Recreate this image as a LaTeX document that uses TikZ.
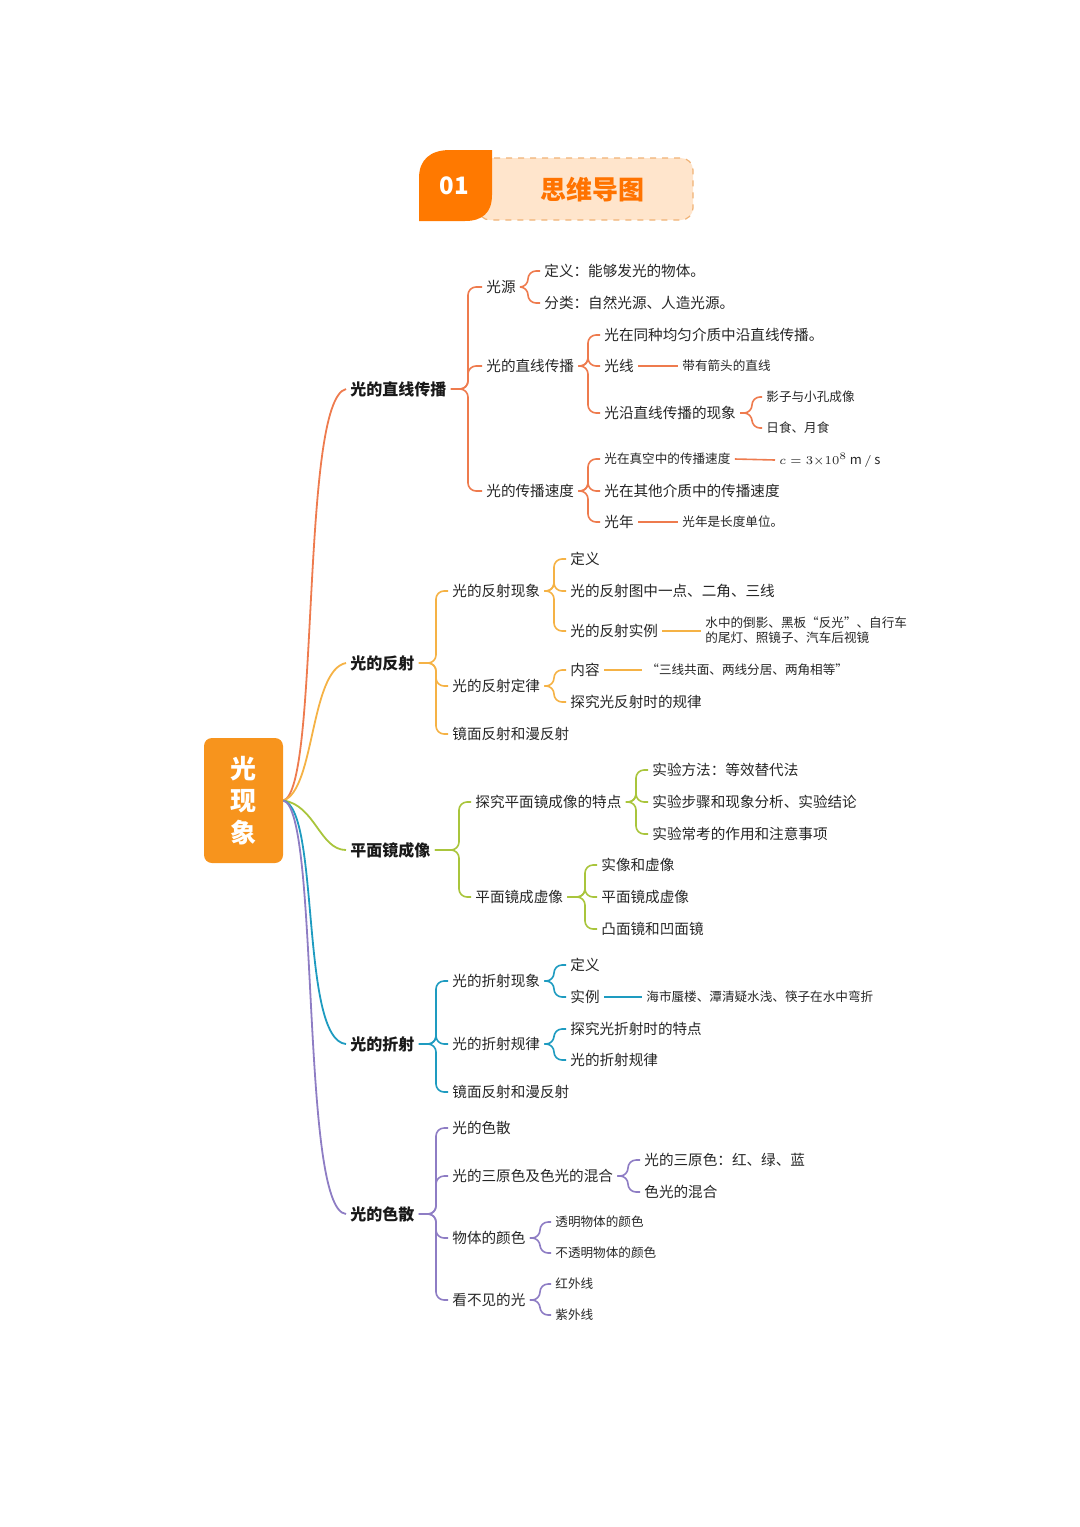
\documentclass[tikz,border=0pt]{standalone}
\usepackage{fontspec}
\setmainfont{Noto Sans CJK SC}
\usetikzlibrary{calc}
\definecolor{cA}{HTML}{EE7B4E}
\definecolor{cB}{HTML}{F5B245}
\definecolor{cC}{HTML}{A9C53C}
\definecolor{cD}{HTML}{1E9BC0}
\definecolor{cE}{HTML}{8E7DC4}
\definecolor{org}{HTML}{F7941D}
\begin{document}
\begin{tikzpicture}[x=0.5pt,y=-0.5pt,
  t/.style={anchor=west,inner sep=2pt,font=\fontsize{7.3}{8}\selectfont,text=black!85},
  s/.style={anchor=west,inner sep=2pt,font=\fontsize{6.3}{7.5}\selectfont,text=black!85},
  m/.style={anchor=west,inner sep=2pt,font=\bfseries\fontsize{8}{9}\selectfont,text=black!90},
  ln/.style={line width=0.8pt,rounded corners=4pt}]
\useasboundingbox (0,0) rectangle (1080,1527);
% header
\draw[dashed,draw=orange!60!brown!60,fill=orange!20,rounded corners=6pt,line width=0.6pt] (478,158) rectangle (693,220);
\fill[orange!95!red] (419,221) -- (419,178) .. controls (419,160) and (430,150) .. (450,150) -- (492,150) -- (492,195) .. controls (492,213) and (482,221) .. (465,221) -- cycle;
\node[font=\bfseries\fontsize{12}{12}\selectfont,text=white] (n01) at (454,186) {01};
\node[font=\bfseries\fontsize{13}{13}\selectfont,text=orange!90!red] (hd) at (592,190) {思维导图};
% root
\node[fill=org,rounded corners=4pt,minimum width=39.5pt,minimum height=62.5pt,align=center,text=white,font=\bfseries\fontsize{13}{16}\selectfont] (root) at (243.5,800.5) {光\\现\\象};
% main
\node[m] (A) at (346,389) {光的直线传播};
\node[m] (B) at (346,663) {光的反射};
\node[m] (C) at (346,850) {平面镜成像};
\node[m] (D) at (346,1044) {光的折射};
\node[m] (E) at (346,1214) {光的色散};
\draw[cA,line width=0.9pt] (root.east) .. controls (320,790) and (300,400) .. (A.west);
\draw[cB,line width=0.9pt] (root.east) .. controls (315,790) and (310,670) .. (B.west);
\draw[cC,line width=0.9pt] (root.east) .. controls (315,805) and (320,850) .. (C.west);
\draw[cD,line width=0.9pt] (root.east) .. controls (320,810) and (300,1040) .. (D.west);
\draw[cE,line width=0.9pt] (root.east) .. controls (320,810) and (300,1210) .. (E.west);
% branch A
\node[t] (a1) at (482,287) {光源};
\node[t] (a11) at (540,271) {定义：能够发光的物体。};
\node[t] (a12) at (540,303) {分类：自然光源、人造光源。};
\node[t] (a2) at (482,366) {光的直线传播};
\node[t] (a21) at (600,335) {光在同种均匀介质中沿直线传播。};
\node[t] (a22) at (600,366) {光线};
\node[s] (a221) at (678,366) {带有箭头的直线};
\node[t] (a23) at (600,413) {光沿直线传播的现象};
\node[s] (a231) at (762,397) {影子与小孔成像};
\node[s] (a232) at (762,428) {日食、月食};
\node[t] (a3) at (482,491) {光的传播速度};
\node[s] (a31) at (600,459) {光在真空中的传播速度};
\node[anchor=west,inner sep=2pt,font=\fontsize{6.5}{7}\selectfont,text=black!85] (a311) at (775,460) {$c=3{\times}10^8\,\mathrm{m\,/\,s}$};
\node[t] (a32) at (600,491) {光在其他介质中的传播速度};
\node[t] (a33) at (600,522) {光年};
\node[s] (a331) at (678,522) {光年是长度单位。};
\coordinate (xa) at (468,0); \coordinate (xa1) at (528,0); \coordinate (xa2) at (588,0); \coordinate (xa3) at (752,0);
\foreach \c in {a1,a2,a3} \draw[cA,ln] (A.east) -- (A.east -| xa) |- (\c.west);
\foreach \c in {a11,a12} \draw[cA,ln] (a1.east) -- (a1.east -| xa1) |- (\c.west);
\foreach \c in {a21,a22,a23} \draw[cA,ln] (a2.east) -- (a2.east -| xa2) |- (\c.west);
\foreach \c in {a231,a232} \draw[cA,ln] (a23.east) -- (a23.east -| xa3) |- (\c.west);
\foreach \c in {a31,a32,a33} \draw[cA,ln] (a3.east) -- (a3.east -| xa2) |- (\c.west);
\draw[cA,ln] (a22.east) -- (a221.west);
\draw[cA,ln] (a31.east) -- (a311.west);
\draw[cA,ln] (a33.east) -- (a331.west);
% branch B
\node[t] (b1) at (448,591) {光的反射现象};
\node[t] (b11) at (566,559) {定义};
\node[t] (b12) at (566,591) {光的反射图中一点、二角、三线};
\node[t] (b13) at (566,631) {光的反射实例};
\node[s,align=left] (b131) at (701,630) {水中的倒影、黑板“反光”、自行车\\的尾灯、照镜子、汽车后视镜};
\node[t] (b2) at (448,686) {光的反射定律};
\node[t] (b21) at (566,670) {内容};
\node[s] (b211) at (642,670) {“三线共面、两线分居、两角相等”};
\node[t] (b22) at (566,702) {探究光反射时的规律};
\node[t] (b3) at (448,734) {镜面反射和漫反射};
\coordinate (xb) at (436,0); \coordinate (xb1) at (554,0);
\foreach \c in {b1,b2,b3} \draw[cB,ln] (B.east) -- (B.east -| xb) |- (\c.west);
\foreach \c in {b11,b12,b13} \draw[cB,ln] (b1.east) -- (b1.east -| xb1) |- (\c.west);
\foreach \c in {b21,b22} \draw[cB,ln] (b2.east) -- (b2.east -| xb1) |- (\c.west);
\draw[cB,ln] (b13.east) -- (b13.east -| b131.west);
\draw[cB,ln] (b21.east) -- (b211.west);
% branch C
\node[t] (c1) at (471,802) {探究平面镜成像的特点};
\node[t] (c11) at (648,770) {实验方法：等效替代法};
\node[t] (c12) at (648,802) {实验步骤和现象分析、实验结论};
\node[t] (c13) at (648,834) {实验常考的作用和注意事项};
\node[t] (c2) at (471,897) {平面镜成虚像};
\node[t] (c21) at (597,865) {实像和虚像};
\node[t] (c22) at (597,897) {平面镜成虚像};
\node[t] (c23) at (597,929) {凸面镜和凹面镜};
\coordinate (xc) at (459,0); \coordinate (xc1) at (636,0); \coordinate (xc2) at (585,0);
\foreach \c in {c1,c2} \draw[cC,ln] (C.east) -- (C.east -| xc) |- (\c.west);
\foreach \c in {c11,c12,c13} \draw[cC,ln] (c1.east) -- (c1.east -| xc1) |- (\c.west);
\foreach \c in {c21,c22,c23} \draw[cC,ln] (c2.east) -- (c2.east -| xc2) |- (\c.west);
% branch D
\node[t] (d1) at (448,981) {光的折射现象};
\node[t] (d11) at (566,965) {定义};
\node[t] (d12) at (566,997) {实例};
\node[s] (d121) at (642,997) {海市蜃楼、潭清疑水浅、筷子在水中弯折};
\node[t] (d2) at (448,1044) {光的折射规律};
\node[t] (d21) at (566,1029) {探究光折射时的特点};
\node[t] (d22) at (566,1060) {光的折射规律};
\node[t] (d3) at (448,1092) {镜面反射和漫反射};
\foreach \c in {d1,d2,d3} \draw[cD,ln] (D.east) -- (D.east -| xb) |- (\c.west);
\foreach \c in {d11,d12} \draw[cD,ln] (d1.east) -- (d1.east -| xb1) |- (\c.west);
\foreach \c in {d21,d22} \draw[cD,ln] (d2.east) -- (d2.east -| xb1) |- (\c.west);
\draw[cD,ln] (d12.east) -- (d121.west);
% branch E
\node[t] (e1) at (448,1128) {光的色散};
\node[t] (e2) at (448,1176) {光的三原色及色光的混合};
\node[t] (e21) at (640,1160) {光的三原色：红、绿、蓝};
\node[t] (e22) at (640,1192) {色光的混合};
\node[t] (e3) at (448,1238) {物体的颜色};
\node[s] (e31) at (551,1222) {透明物体的颜色};
\node[s] (e32) at (551,1253) {不透明物体的颜色};
\node[t] (e4) at (448,1300) {看不见的光};
\node[s] (e41) at (551,1284) {红外线};
\node[s] (e42) at (551,1315) {紫外线};
\coordinate (xe1) at (628,0); \coordinate (xe2) at (540,0);
\foreach \c in {e1,e2,e3,e4} \draw[cE,ln] (E.east) -- (E.east -| xb) |- (\c.west);
\foreach \c in {e21,e22} \draw[cE,ln] (e2.east) -- (e2.east -| xe1) |- (\c.west);
\foreach \c in {e31,e32} \draw[cE,ln] (e3.east) -- (e3.east -| xe2) |- (\c.west);
\foreach \c in {e41,e42} \draw[cE,ln] (e4.east) -- (e4.east -| xe2) |- (\c.west);
\end{tikzpicture}
\end{document}
